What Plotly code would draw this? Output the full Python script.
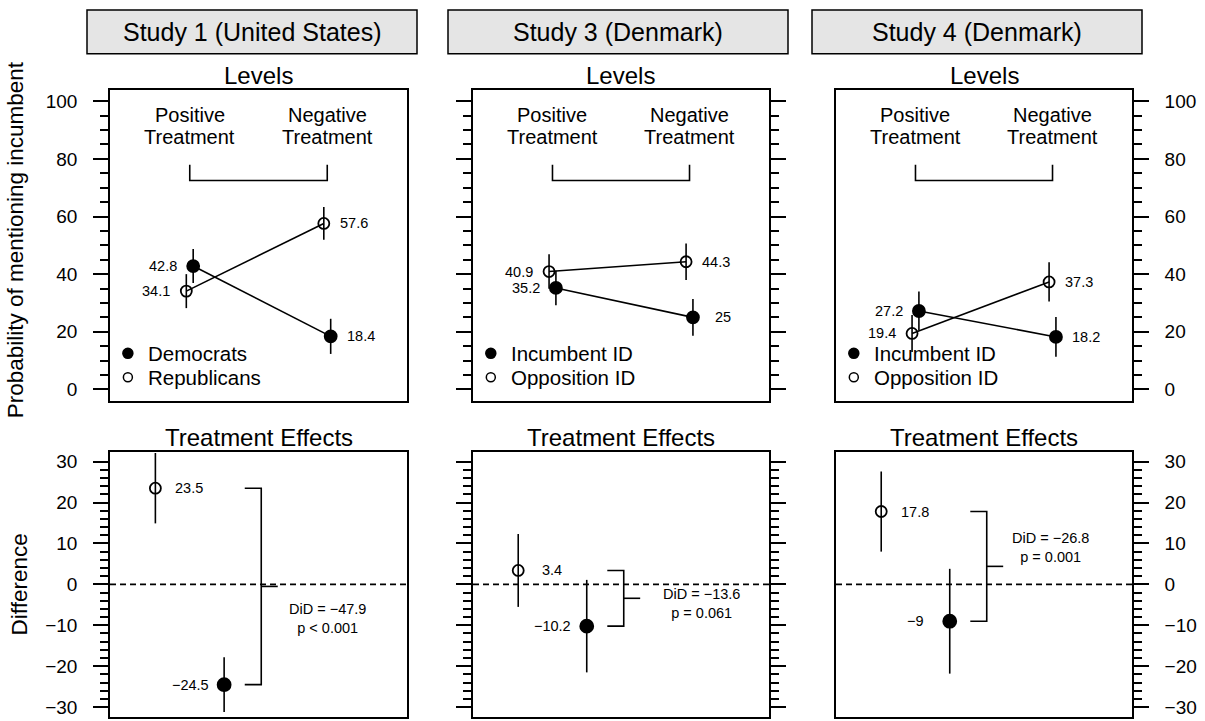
import plotly.graph_objects as go

# ---------------------------------------------------------------- data
studies = ["Study 1 (United States)", "Study 3 (Denmark)", "Study 4 (Denmark)"]
group_filled = ["Democrats", "Incumbent ID", "Incumbent ID"]
group_open = ["Republicans", "Opposition ID", "Opposition ID"]
treatment_top = ["Positive", "Negative"]
treatment_bottom = ["Treatment", "Treatment"]

# probability of mentioning the incumbent: [positive, negative] treatment
filled_levels = [[42.8, 18.4], [35.2, 25.0], [27.2, 18.2]]
filled_level_ci = [[5.9, 6.1], [6.0, 6.4], [6.8, 6.9]]
open_levels = [[34.1, 57.6], [40.9, 44.3], [19.4, 37.3]]
open_level_ci = [[5.9, 5.7], [6.0, 6.3], [6.4, 6.8]]

# treatment effects (negative minus positive)
open_effects = [23.5, 3.4, 17.8]
open_effect_ci = [8.6, 8.9, 9.8]
filled_effects = [-24.5, -10.2, -9.0]
filled_effect_ci = [6.7, 11.3, 12.8]
did_values = [-47.9, -13.6, -26.8]
did_p = ["p < 0.001", "p = 0.061", "p = 0.001"]

level_ticks = [0, 20, 40, 60, 80, 100]
effect_ticks = [-30, -20, -10, 0, 10, 20, 30]

# ---------------------------------------------------------------- layout geometry (pixels)
W, H = 1205, 721
FONT = "Liberation Sans, Arial, Helvetica, sans-serif"
col_px = [(110, 407), (473, 769), (836, 1132)]
top_px = (89, 401)
bot_px = (452, 718)
header_px = [(87, 417), (448, 788), (812, 1142)]
header_y = (9, 53)
did_text_pos = [(2.0, -8.4), (2.09, -4.7), (1.985, 8.9)]
LW = 1.6


def fx(px):
    return px / W


def fy(px):
    return 1 - px / H


def fmt(v):
    return f"{v:g}".replace("-", "\u2212")


def axkey(kind, k):
    return f"{kind}axis" if k == 1 else f"{kind}axis{k}"


def aref(kind, k):
    return kind if k == 1 else f"{kind}{k}"


fig = go.Figure()
shapes = []
annotations = []
layout_axes = {}

XR = [0.42, 2.58]
OFF = 0.025

for i in range(3):
    kt, kb = i + 1, i + 4
    x0, x1 = col_px[i]
    cx = (x0 + x1) / 2

    # ------------------------------------------------ axes
    side = "right" if i == 2 else "left"
    mirror = "ticks" if i == 1 else True
    show_lbl = i != 1
    for k, (py0, py1), rng, tv, minor_vals in [
        (kt, top_px, [-4, 104], level_ticks, [v for v in range(0, 101, 5) if v % 20]),
        (kb, bot_px, [-32.4, 32.4], effect_ticks, [v for v in range(-30, 31, 2) if v % 10]),
    ]:
        layout_axes[axkey("x", k)] = dict(
            domain=[fx(x0), fx(x1)], range=XR, anchor=aref("y", k),
            showline=True, mirror=True, linecolor="black", linewidth=LW,
            ticks="", showticklabels=False, showgrid=False, zeroline=False,
            fixedrange=True,
        )
        layout_axes[axkey("y", k)] = dict(
            domain=[fy(py1), fy(py0)], range=rng, anchor=aref("x", k),
            side=side, showline=True, mirror=mirror, linecolor="black", linewidth=LW,
            tickmode="array", tickvals=tv, ticks="outside", ticklen=15,
            tickwidth=LW, tickcolor="black", showticklabels=show_lbl,
            tickfont=dict(family=FONT, size=19, color="black"),
            ticklabelstandoff=12,
            minor=dict(tickmode="array", tickvals=minor_vals, ticks="outside",
                       ticklen=8, tickwidth=LW, tickcolor="black", showgrid=False),
            showgrid=False, zeroline=False, fixedrange=True,
        )

    xt, yt = aref("x", kt), aref("y", kt)
    xb, yb = aref("x", kb), aref("y", kb)

    # ------------------------------------------------ levels panel
    for vals, ci, off, sym, size in [
        (open_levels[i], open_level_ci[i], -OFF, "circle-open", 11),
        (filled_levels[i], filled_level_ci[i], OFF, "circle", 12),
    ]:
        xs = [1 + off, 2 + off]
        fig.add_trace(go.Scatter(
            x=xs, y=vals, xaxis=xt, yaxis=yt, mode="lines+markers",
            line=dict(color="black", width=LW),
            marker=dict(symbol=sym, size=size, color="black", line=dict(color="black", width=1.8)),
            error_y=dict(type="data", array=ci, symmetric=True, width=0,
                         thickness=LW, color="black"),
            hoverinfo="skip", cliponaxis=False,
        ))
        for xv, yv, sh in zip(xs, vals, [-30, 30]):
            annotations.append(dict(
                x=xv, y=yv, xref=xt, yref=yt, text=fmt(yv), showarrow=False,
                xshift=sh, xanchor="center", yanchor="middle",
                font=dict(family=FONT, size=14.5, color="black"),
            ))

    # treatment headings and bracket
    for j, name in enumerate(treatment_top):
        annotations.append(dict(x=j + 1, y=95.2, xref=xt, yref=yt, text=name,
                                xanchor="center", yanchor="middle", showarrow=False,
                                font=dict(family=FONT, size=20, color="black")))
        annotations.append(dict(x=j + 1, y=87.6, xref=xt, yref=yt, text=treatment_bottom[j],
                                xanchor="center", yanchor="middle", showarrow=False,
                                font=dict(family=FONT, size=20, color="black")))
    shapes.append(dict(type="path", xref=xt, yref=yt, path="M 1,78 L 1,72.5 L 2,72.5 L 2,78",
                       line=dict(color="black", width=LW)))

    # legend
    for yv, sym, size, name in [(12.5, "circle", 10, group_filled[i]),
                                (4.2, "circle-open", 9, group_open[i])]:
        fig.add_trace(go.Scatter(
            x=[0.55], y=[yv], xaxis=xt, yaxis=yt, mode="markers",
            marker=dict(symbol=sym, size=size, color="black",
                        line=dict(color="black", width=1.5)),
            hoverinfo="skip",
        ))
        annotations.append(dict(x=0.68, y=yv, xref=xt, yref=yt, text=name, showarrow=False,
                                xanchor="left", yanchor="middle",
                                font=dict(family=FONT, size=20.5, color="black")))

    # ------------------------------------------------ treatment-effects panel
    shapes.append(dict(type="line", xref=f"{xb} domain", yref=yb, x0=0, x1=1, y0=0, y1=0,
                       line=dict(color="black", width=LW, dash="6px,4px"), layer="below"))
    for xv, val, ci, sym, size, sh in [
        (0.75, open_effects[i], open_effect_ci[i], "circle-open", 11, 34),
        (1.25, filled_effects[i], filled_effect_ci[i], "circle", 13, -34),
    ]:
        fig.add_trace(go.Scatter(
            x=[xv], y=[val], xaxis=xb, yaxis=yb, mode="markers",
            marker=dict(symbol=sym, size=size, color="black", line=dict(color="black", width=1.8)),
            error_y=dict(type="data", array=[ci], symmetric=True, width=0,
                         thickness=LW, color="black"),
            hoverinfo="skip",
        ))
        annotations.append(dict(x=xv, y=val, xref=xb, yref=yb, text=fmt(val), showarrow=False,
                                xshift=sh, xanchor="center", yanchor="middle",
                                font=dict(family=FONT, size=14.5, color="black")))

    top_v, bot_v = open_effects[i], filled_effects[i]
    mid_v = (top_v + bot_v) / 2
    shapes.append(dict(type="path", xref=xb, yref=yb,
                       path=f"M 1.4,{top_v} L 1.52,{top_v} L 1.52,{bot_v} L 1.4,{bot_v}",
                       line=dict(color="black", width=LW)))
    shapes.append(dict(type="line", xref=xb, yref=yb, x0=1.52, x1=1.64, y0=mid_v, y1=mid_v,
                       line=dict(color="black", width=LW)))
    tx, ty = did_text_pos[i]
    annotations.append(dict(x=tx, y=ty, xref=xb, yref=yb,
                            text=f"DiD = {fmt(did_values[i])}<br>{did_p[i]}",
                            showarrow=False, align="center", xanchor="center", yanchor="middle",
                            font=dict(family=FONT, size=14.5, color="black")))

    # ------------------------------------------------ panel titles and study header
    annotations.append(dict(x=fx(cx), y=fy(75), xref="paper", yref="paper", text="Levels",
                            showarrow=False, xanchor="center", yanchor="middle",
                            font=dict(family=FONT, size=24, color="black")))
    annotations.append(dict(x=fx(cx), y=fy(438), xref="paper", yref="paper",
                            text="Treatment Effects", showarrow=False,
                            xanchor="center", yanchor="middle",
                            font=dict(family=FONT, size=24, color="black")))
    hx0, hx1 = header_px[i]
    shapes.append(dict(type="rect", xref="paper", yref="paper",
                       x0=fx(hx0), x1=fx(hx1), y0=fy(header_y[1]), y1=fy(header_y[0]),
                       fillcolor="#e5e5e5", line=dict(color="black", width=1.5)))
    annotations.append(dict(x=fx((hx0 + hx1) / 2), y=fy(31), xref="paper", yref="paper",
                            text=studies[i], showarrow=False,
                            xanchor="center", yanchor="middle",
                            font=dict(family=FONT, size=25, color="black")))

# shared axis titles
annotations.append(dict(x=fx(15), y=fy(240), xref="paper", yref="paper",
                        text="Probability of mentioning incumbent", textangle=-90,
                        showarrow=False, xanchor="center", yanchor="middle",
                        font=dict(family=FONT, size=22.5, color="black")))
annotations.append(dict(x=fx(19), y=fy(585), xref="paper", yref="paper",
                        text="Difference", textangle=-90,
                        showarrow=False, xanchor="center", yanchor="middle",
                        font=dict(family=FONT, size=22.5, color="black")))

fig.update_layout(
    width=W, height=H, margin=dict(l=0, r=0, t=0, b=0),
    paper_bgcolor="white", plot_bgcolor="white", showlegend=False,
    shapes=shapes, annotations=annotations, **layout_axes,
)

fig.write_html("out.html")
